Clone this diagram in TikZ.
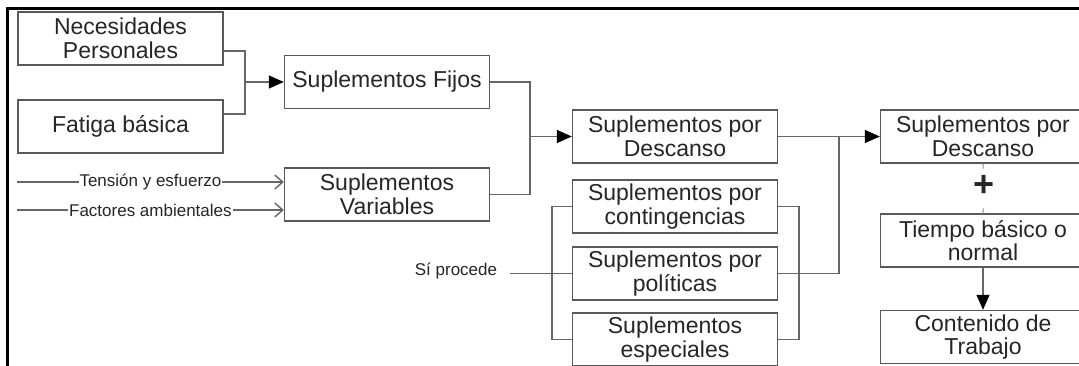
\documentclass[tikz,border=0pt]{standalone}
\usepackage{fontspec}
\setmainfont{Liberation Sans}
\usetikzlibrary{calc, positioning, arrows, arrows.meta}

\begin{document}
\begin{tikzpicture}[x=1pt, y=-1pt]
		\tikzstyle{caja}=[draw=black!65, line width=1.4pt, minimum width=205pt, minimum height=53pt, inner sep=0pt, align=center, text=black!85, font=\fontsize{23}{23.5}\selectfont]
		\tikzstyle{linea}=[draw=black!60, line width=1.4pt]
		\tikzstyle{fleche}=[linea, -{Triangle[length=15pt,width=13pt,color=black]}]
		\tikzstyle{flechev}=[linea, -{Straight Barb[length=8pt,width=14pt]}]
		\tikzstyle{etiq}=[fill=white, inner sep=1pt, text=black!85, font=\fontsize{17}{17}\selectfont]
		\tikzstyle{tenue}=[draw=black!30, line width=1.4pt, dash pattern=on 5pt off 30pt]
		\useasboundingbox (0,0) rectangle (1079,366);
		\fill[white] (0,0) rectangle (1079,366);
		\draw[line width=3pt] (7,366) -- (7,9) -- (1079,9);

		\node[caja] (nec) at (120.5,38.5) {Necesidades\\Personales};
		\node[caja] (fat) at (120.5,126.5) {Fatiga básica};
		\node[caja] (fijos) at (387,82) {Suplementos Fijos};
		\node[caja] (var) at (387,194.5) {Suplementos\\Variables};
		\node[caja] (desc) at (675,136.5) {Suplementos por\\Descanso};
		\node[caja] (cont) at (675,206.5) {Suplementos por\\contingencias};
		\node[caja] (pol) at (675,273.5) {Suplementos por\\políticas};
		\node[caja] (esp) at (675,339.5) {Suplementos\\especiales};
		\node[caja] (descb) at (983,136.5) {Suplementos por\\Descanso};
		\node[caja] (tiempo) at (983,240.5) {Tiempo básico o\\normal};
		\node[caja] (trab) at (983,337) {Contenido de\\Trabajo};
		\node[text=black!85, inner sep=0pt, font=\fontsize{36}{36}\selectfont\bfseries] (mas) at (984,186) {+};
		\node[etiq, fill=none] (sip) at (456,271) {Sí procede};

		\coordinate (j1) at (245,82);
		\coordinate (j2) at (530,136.5);
		\coordinate (j3) at (839,136.5);
		\coordinate (bi) at (552,273.5);
		\coordinate (bd) at (799,273.5);
		\coordinate (t0) at (17,182);
		\coordinate (f0) at (17,210);
		\coordinate (s0) at (510,273.5);

		\draw[linea] ([yshift=-12.5pt]nec.east) -| (j1);
		\draw[linea] ([yshift=12.5pt]fat.east) -| (j1);
		\draw[fleche] (j1) -- (fijos.west);
		\draw[linea] (fijos.east) -| (j2);
		\draw[linea] (var.east) -| (j2);
		\draw[fleche] (j2) -- (desc.west);
		\draw[flechev] (t0) -- (var.west |- t0) node[etiq, midway] (tens) {Tensión y esfuerzo};
		\draw[flechev] (f0) -- (var.west |- f0) node[etiq, midway] (fact) {Factores ambientales};
		\draw[linea] (cont.west) -| (bi) |- (esp.west);
		\draw[linea] (cont.east) -| (bd) |- (esp.east);
		\draw[linea] (s0) -- (pol.west);
		\draw[linea] (pol.east) -| (j3);
		\draw[fleche] (desc.east) -- (descb.west);
		\draw[tenue] (descb.south) -- (mas.north);
		\draw[tenue] (tiempo.north) -- (mas.south);
		\draw[fleche] (tiempo) -- (trab);
	\end{tikzpicture}
\end{document}
